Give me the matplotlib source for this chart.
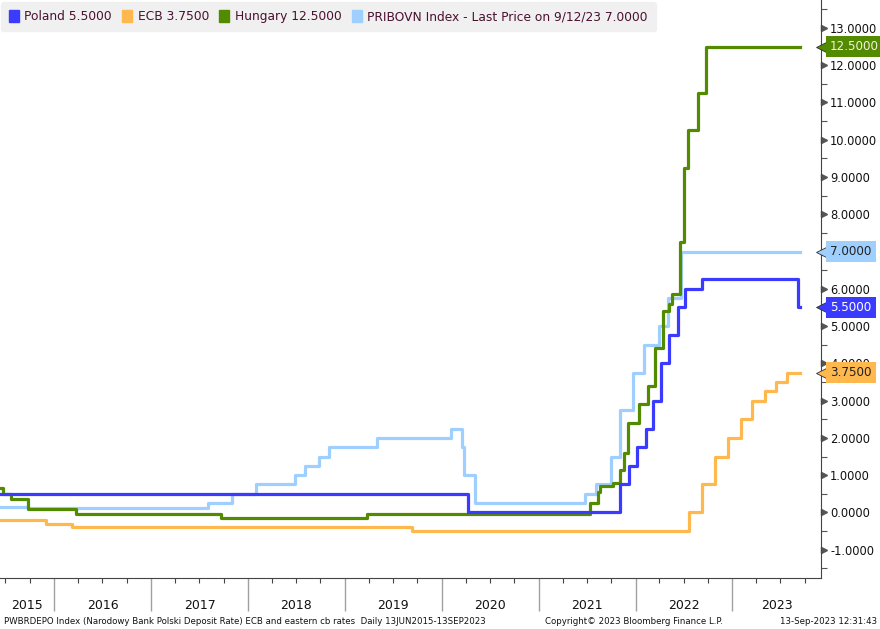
import matplotlib
matplotlib.use("Agg")
import matplotlib.pyplot as plt
import matplotlib.dates as mdates
import matplotlib.transforms as mtransforms
from matplotlib.patches import Patch
from matplotlib.ticker import MultipleLocator, FormatStrFormatter
import numpy as np
import pandas as pd

# step series: date of each change and the rate from that day on
poland_dates = ["2015-06-12", "2020-04-09", "2021-11-04", "2021-12-09", "2022-01-05",
                "2022-02-09", "2022-03-09", "2022-04-07", "2022-05-06", "2022-06-09",
                "2022-07-07", "2022-09-08", "2023-09-07"]
poland_rates = [0.5, 0.0, 0.75, 1.25, 1.75, 2.25, 3.0, 4.0, 4.75, 5.5, 6.0, 6.25, 5.5]
poland_end = "2023-09-13"

ecb_dates = ["2015-06-12", "2015-12-03", "2016-03-10", "2019-09-12", "2022-07-21",
             "2022-09-08", "2022-10-27", "2022-12-15", "2023-02-02", "2023-03-16",
             "2023-05-04", "2023-06-15", "2023-07-27"]
ecb_rates = [-0.2, -0.3, -0.4, -0.5, 0.0, 0.75, 1.5, 2.0, 2.5, 3.0, 3.25, 3.5, 3.75]
ecb_end = "2023-09-13"

hungary_dates = ["2015-06-12", "2015-06-23", "2015-07-22", "2015-09-23", "2016-03-23",
                 "2017-09-20", "2019-03-27", "2021-07-13", "2021-08-11", "2021-08-20",
                 "2021-10-07", "2021-11-05", "2021-11-20", "2021-12-05", "2022-01-15",
                 "2022-02-16", "2022-03-17", "2022-04-16", "2022-05-08", "2022-05-19",
                 "2022-06-17", "2022-07-03", "2022-07-18", "2022-08-23", "2022-09-23"]
hungary_rates = [0.65, 0.5, 0.35, 0.1, -0.05, -0.15, -0.05, 0.25, 0.55, 0.7,
                 0.8, 1.15, 1.6, 2.4, 2.9, 3.4, 4.4, 5.4, 5.6, 5.85,
                 7.25, 9.25, 10.25, 11.25, 12.5]
hungary_end = "2023-09-13"

pribor_dates = ["2015-06-12", "2015-09-24", "2017-08-03", "2017-11-02", "2018-02-01",
                "2018-06-27", "2018-08-02", "2018-09-26", "2018-11-01", "2019-05-02",
                "2020-02-06", "2020-03-16", "2020-03-26", "2020-05-07", "2021-06-23",
                "2021-08-05", "2021-09-30", "2021-11-04", "2021-12-23", "2022-02-03",
                "2022-03-31", "2022-05-05", "2022-06-23"]
pribor_rates = [0.14, 0.11, 0.26, 0.5, 0.75, 1.0, 1.25, 1.5, 1.75, 2.0,
                2.25, 1.75, 1.0, 0.26, 0.5, 0.75, 1.5, 2.75, 3.75, 4.5,
                5.0, 5.75, 7.0]
pribor_end = "2023-09-12"

legend_labels = ["Poland 5.5000", "ECB 3.7500", "Hungary 12.5000",
                 "PRIBOVN Index - Last Price on 9/12/23 7.0000"]
colors = ["#3b3bff", "#ffb84d", "#528a00", "#9fcfff"]
last_values = [5.5, 3.75, 12.5, 7.0]
badge_text_colors = ["white", "#222222", "#f4f4dc", "#222222"]

years = list(range(2015, 2024))
x_start = pd.Timestamp("2015-06-11")
x_stop = pd.Timestamp("2023-12-01")

series = [
    (poland_dates, poland_rates, poland_end),
    (ecb_dates, ecb_rates, ecb_end),
    (hungary_dates, hungary_rates, hungary_end),
    (pribor_dates, pribor_rates, pribor_end),
]

fig = plt.figure(figsize=(8.8, 6.29), dpi=100)
ax = fig.add_axes([0.0, 51 / 629, 821 / 880, 578 / 629])

# draw order: ecb first, then pribor, hungary, poland on top
order = [1, 3, 2, 0]
for i in order:
    d, v, end = series[i]
    xs = pd.to_datetime(d + [end])
    ys = v + [v[-1]]
    ax.step(xs, ys, where="post", color=colors[i], lw=2.3, zorder=3 + order.index(i))

ax.set_xlim(x_start, x_stop)
ax.set_ylim(-1.76, 13.75)

for s in ["top", "left"]:
    ax.spines[s].set_visible(False)
ax.spines["right"].set_color("#444444")
ax.spines["bottom"].set_color("#444444")

# y axis on the right
ax.yaxis.tick_right()
ax.yaxis.set_major_locator(MultipleLocator(1.0))
ax.yaxis.set_minor_locator(MultipleLocator(0.5))
ax.yaxis.set_major_formatter(FormatStrFormatter("%.4f"))
ax.tick_params(axis="y", which="major", length=0, pad=6.5, labelsize=8.3, labelcolor="#111111")
ax.tick_params(axis="y", which="minor", length=4, width=0.8, color="#555555")

ytr = mtransforms.blended_transform_factory(ax.transAxes, ax.transData)
tri_off = mtransforms.ScaledTranslation(3 / 100, 0, fig.dpi_scale_trans)
yt = np.arange(-1, 14)
ax.plot(np.ones(len(yt)), yt, ls="none", marker=">", ms=5, color="#555555",
        transform=ytr + tri_off, clip_on=False)

# x axis: years as long separators, quarters as short ticks
ax.xaxis.set_major_locator(mdates.YearLocator())
ax.xaxis.set_minor_locator(mdates.MonthLocator(bymonth=[4, 7, 10]))
ax.xaxis.set_major_formatter(plt.NullFormatter())
ax.tick_params(axis="x", which="major", length=24, width=1, color="#a0a0a0")
ax.tick_params(axis="x", which="minor", length=3.5, width=0.8, color="#444444")

xtr = mtransforms.blended_transform_factory(ax.transData, ax.transAxes)
for yr in years:
    a = max(pd.Timestamp(f"{yr}-01-01"), x_start)
    b = min(pd.Timestamp(f"{yr + 1}-01-01"), x_stop)
    mid = a + (b - a) / 2
    ax.text(mid, -0.047, str(yr), transform=xtr, ha="center", va="center",
            fontsize=9, color="#111111")

# last value badges on the right
badge_off = mtransforms.ScaledTranslation(4 / 100, 0, fig.dpi_scale_trans)
for c, v, tc in zip(colors, last_values, badge_text_colors):
    ax.plot([1.0], [v], marker="<", ms=12.5, color=c, mec="#333333", mew=0.6,
            transform=ytr + badge_off, clip_on=False, zorder=9)
    ax.text(1.011, v, f"{v:.4f}", transform=ytr, ha="left", va="center", fontsize=8.6,
            color=tc, zorder=10,
            bbox=dict(boxstyle="square,pad=0.36", fc=c, ec=c, lw=0))

# legend box
handles = [Patch(facecolor=c, edgecolor=c) for c in colors]
leg = ax.legend(handles, legend_labels, loc="upper left", bbox_to_anchor=(0.0, 0.998),
                ncol=4, fontsize=8.8, frameon=True, handlelength=0.8, handleheight=1.1,
                handletextpad=0.45, columnspacing=0.85, borderaxespad=0.1, borderpad=0.65,
                fancybox=True, labelcolor="#4a1030")
leg.get_frame().set_facecolor("#f0f0f0")
leg.get_frame().set_edgecolor("#f0f0f0")
leg.get_frame().set_alpha(1)
leg.set_zorder(20)

# footer
fig.text(0.004, 0.0127,
         "PWBRDEPO Index (Narodowy Bank Polski Deposit Rate) ECB and eastern cb rates  Daily 13JUN2015-13SEP2023",
         fontsize=6.2, ha="left", va="center", color="#111111")
fig.text(545 / 880, 0.0127, "Copyright\u00a9 2023 Bloomberg Finance L.P.",
         fontsize=6.2, ha="left", va="center", color="#111111")
fig.text(0.997, 0.0127, "13-Sep-2023 12:31:43",
         fontsize=6.2, ha="right", va="center", color="#111111")

fig.savefig("out.png", dpi=100)
